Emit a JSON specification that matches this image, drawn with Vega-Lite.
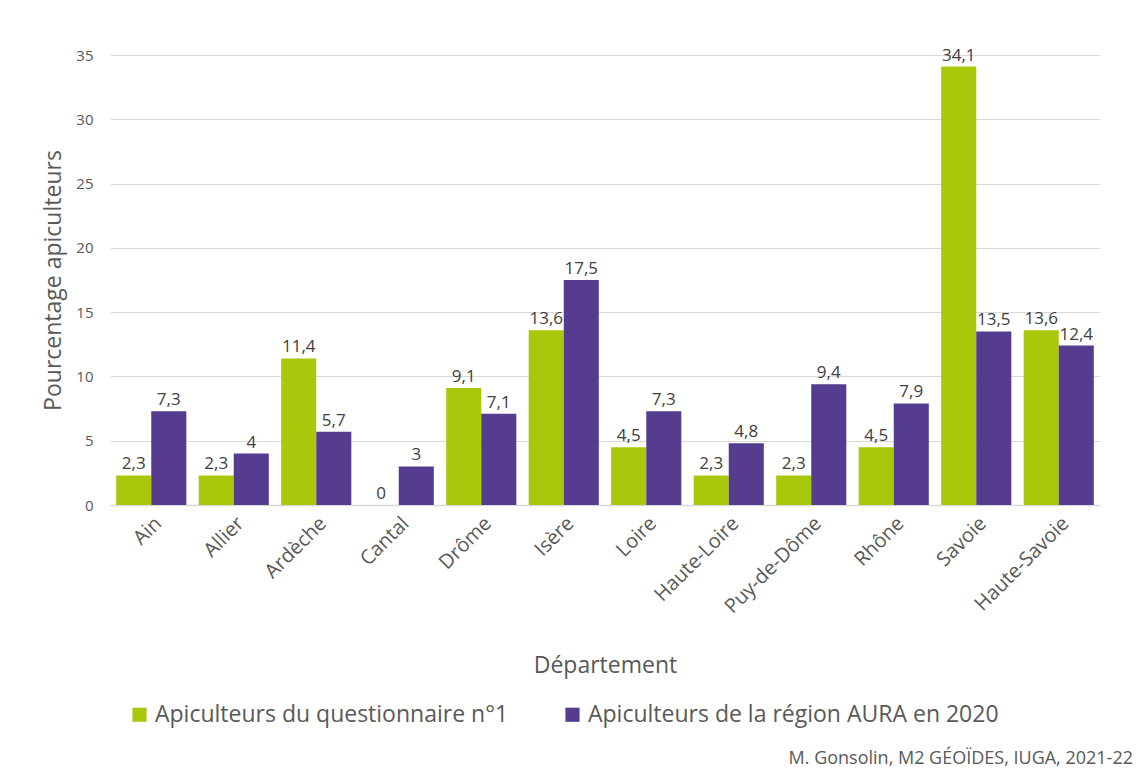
{
  "$schema": "https://vega.github.io/schema/vega-lite/v6.json",
  "autosize": "none",
  "width": 990,
  "height": 450,
  "padding": {"left": 110, "top": 55, "right": 38, "bottom": 266},
  "background": "white",
  "config": {
    "font": "Open Sans",
    "view": {"stroke": null},
    "locale": {"number": {"decimal": ",", "thousands": " ", "grouping": [3], "currency": ["", " €"]}}
  },
  "title": {
    "text": "M. Gonsolin, M2 GÉOÏDES,  IUGA, 2021-22",
    "orient": "bottom",
    "anchor": "end",
    "fontSize": 18,
    "fontWeight": "normal",
    "color": "#595959",
    "offset": 23,
    "dx": 33
  },
  "data": {
    "values": [
      {"dep": "Ain", "serie": "Apiculteurs du questionnaire n°1", "pct": 2.3},
      {"dep": "Ain", "serie": "Apiculteurs de la région AURA en 2020", "pct": 7.3},
      {"dep": "Allier", "serie": "Apiculteurs du questionnaire n°1", "pct": 2.3},
      {"dep": "Allier", "serie": "Apiculteurs de la région AURA en 2020", "pct": 4},
      {"dep": "Ardèche", "serie": "Apiculteurs du questionnaire n°1", "pct": 11.4},
      {"dep": "Ardèche", "serie": "Apiculteurs de la région AURA en 2020", "pct": 5.7},
      {"dep": "Cantal", "serie": "Apiculteurs du questionnaire n°1", "pct": 0},
      {"dep": "Cantal", "serie": "Apiculteurs de la région AURA en 2020", "pct": 3},
      {"dep": "Drôme", "serie": "Apiculteurs du questionnaire n°1", "pct": 9.1},
      {"dep": "Drôme", "serie": "Apiculteurs de la région AURA en 2020", "pct": 7.1},
      {"dep": "Isère", "serie": "Apiculteurs du questionnaire n°1", "pct": 13.6},
      {"dep": "Isère", "serie": "Apiculteurs de la région AURA en 2020", "pct": 17.5},
      {"dep": "Loire", "serie": "Apiculteurs du questionnaire n°1", "pct": 4.5},
      {"dep": "Loire", "serie": "Apiculteurs de la région AURA en 2020", "pct": 7.3},
      {"dep": "Haute-Loire", "serie": "Apiculteurs du questionnaire n°1", "pct": 2.3},
      {"dep": "Haute-Loire", "serie": "Apiculteurs de la région AURA en 2020", "pct": 4.8},
      {"dep": "Puy-de-Dôme", "serie": "Apiculteurs du questionnaire n°1", "pct": 2.3},
      {"dep": "Puy-de-Dôme", "serie": "Apiculteurs de la région AURA en 2020", "pct": 9.4},
      {"dep": "Rhône", "serie": "Apiculteurs du questionnaire n°1", "pct": 4.5},
      {"dep": "Rhône", "serie": "Apiculteurs de la région AURA en 2020", "pct": 7.9},
      {"dep": "Savoie", "serie": "Apiculteurs du questionnaire n°1", "pct": 34.1},
      {"dep": "Savoie", "serie": "Apiculteurs de la région AURA en 2020", "pct": 13.5},
      {"dep": "Haute-Savoie", "serie": "Apiculteurs du questionnaire n°1", "pct": 13.6},
      {"dep": "Haute-Savoie", "serie": "Apiculteurs de la région AURA en 2020", "pct": 12.4}
    ]
  },
  "encoding": {
    "x": {
      "field": "dep",
      "type": "nominal",
      "sort": null,
      "scale": {"paddingInner": 0.15, "paddingOuter": 0.075},
      "axis": {
        "title": "Département",
        "titleFontSize": 23,
        "titleFontWeight": "normal",
        "titleColor": "#595959",
        "titlePadding": 38,
        "labelAngle": -45,
        "labelFontSize": 20,
        "labelColor": "#595959",
        "labelPadding": 8,
        "ticks": false,
        "domainColor": "#d9d9d9",
        "domainWidth": 1.5
      }
    },
    "xOffset": {"field": "serie", "type": "nominal", "sort": null, "scale": {"paddingInner": 0}},
    "y": {
      "field": "pct",
      "type": "quantitative",
      "scale": {"domain": [0, 35], "nice": false},
      "axis": {
        "title": "Pourcentage apiculteurs",
        "titleFontSize": 23,
        "titleFontWeight": "normal",
        "titleColor": "#595959",
        "titlePadding": 10,
        "values": [0, 5, 10, 15, 20, 25, 30, 35],
        "labelFontSize": 15,
        "labelColor": "#595959",
        "labelPadding": 17,
        "ticks": false,
        "domain": false,
        "gridColor": "#d9d9d9",
        "gridWidth": 1.2
      }
    }
  },
  "layer": [
    {
      "mark": {"type": "bar"},
      "encoding": {
        "color": {
          "field": "serie",
          "type": "nominal",
          "sort": null,
          "scale": {"range": ["#a9c70b", "#553c8e"]},
          "legend": {
            "title": null,
            "orient": "none",
            "direction": "horizontal",
            "legendX": 18,
            "legendY": 648,
            "labelFontSize": 23,
            "labelColor": "#595959",
            "symbolType": "square",
            "symbolSize": 200,
            "symbolStrokeWidth": 0,
            "columnPadding": 52,
            "labelLimit": 600
          }
        }
      }
    },
    {
      "mark": {"type": "text", "dy": -11, "fontSize": 17, "color": "#404040"},
      "encoding": {
        "text": {"field": "pct", "type": "quantitative", "format": "~g"}
      }
    }
  ]
}
